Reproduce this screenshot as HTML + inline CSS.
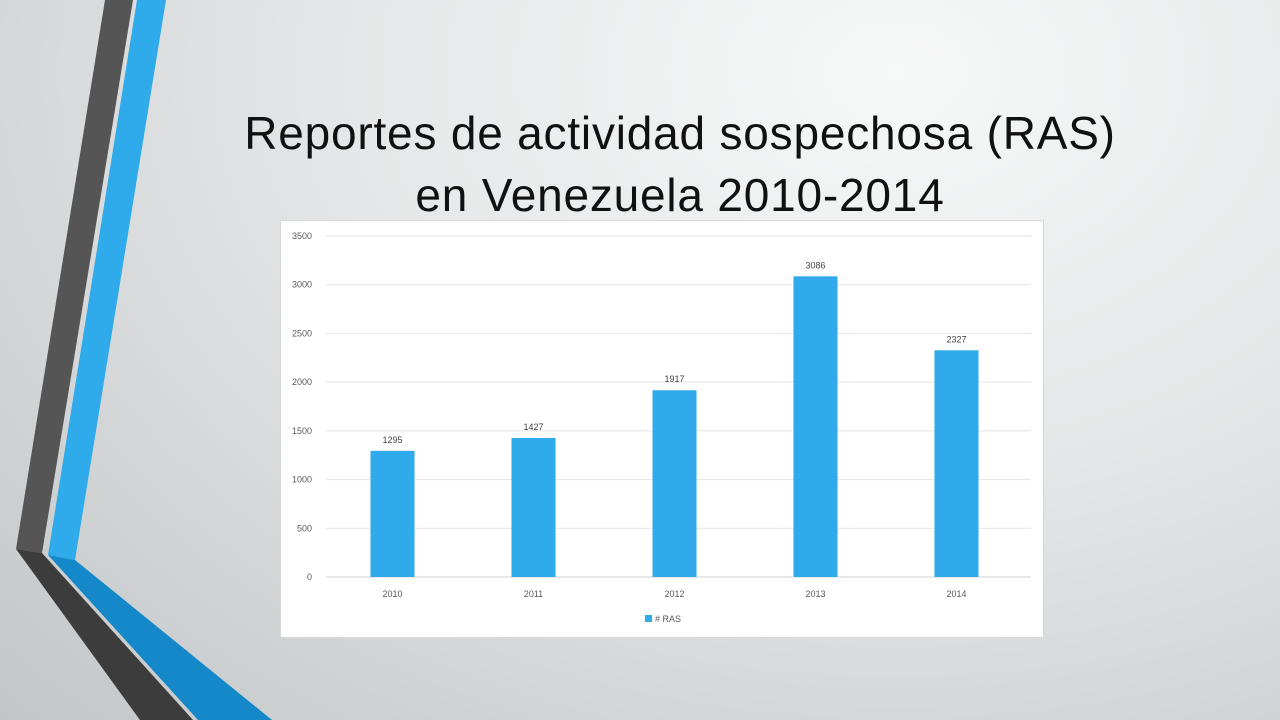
<!DOCTYPE html>
<html><head><meta charset="utf-8"><style>
body{margin:0;width:1280px;height:720px;overflow:hidden;font-family:"Liberation Sans",sans-serif;}
#bg{position:absolute;left:0;top:0;width:1280px;height:720px;background:radial-gradient(ellipse at 70% 10%,#f7f8f8 0%,#e4e6e7 45%,#c3c6c8 100%);}
h1{position:absolute;left:130px;top:102px;width:1100px;margin:0;text-align:center;font-weight:normal;font-size:46px;letter-spacing:0.8px;line-height:62px;color:#111;}
#chartbox{position:absolute;left:280px;top:220px;width:764px;height:418px;background:#fff;border:1px solid #d9d9d9;box-sizing:border-box;}
</style></head><body>
<div id="bg"></div>
<svg style="position:absolute;left:0;top:0" width="1280" height="720">
<polygon points="105,0 133,0 42,553 16,549" fill="#555"/>
<polygon points="16,549 42,553 193,720 140,720" fill="#3c3c3c"/>
<polygon points="137,0 166,0 75,560 48,555" fill="#2faaea"/>
<polygon points="48,555 75,560 272,720 198,720" fill="#1588c9"/>
</svg>
<h1>Reportes de actividad sospechosa (RAS)<br>en Venezuela 2010-2014</h1>
<div id="chartbox">
<svg id="chart" width="764" height="418"></svg>
</div>
<script>
const categories=["2010","2011","2012","2013","2014"];
const values=[1295,1427,1917,3086,2327];
const ticks=[0,500,1000,1500,2000,2500,3000,3500];
const NS="http://www.w3.org/2000/svg";
const svg=document.getElementById('chart');
const x0=43,x1=748,yb=356,yt=15,ymax=3500;
const y=v=>yb-(v/ymax)*(yb-yt);
const step=(x1-x0)/categories.length;
const xc=i=>x0+step*(i+0.5)-2;
function mk(t,a){const e=document.createElementNS(NS,t);for(const k in a)e.setAttribute(k,a[k]);svg.appendChild(e);return e;}
ticks.forEach(t=>{
const l=mk('line',{x1:x0+2,x2:x1+2,y1:y(t),y2:y(t),stroke:t===0?'#d0d0d0':'#e3e3e3','stroke-width':1});


const tx=mk('text',{x:31,y:y(t)+3,'text-anchor':'end','font-size':9,fill:'#595959'});
tx.textContent=t;


});
categories.forEach((c,i)=>{
const bw=44;
const r=mk('rect',{x:xc(i)-bw/2,y:y(values[i]),width:bw,height:yb-y(values[i]),fill:'#2faaea'});


const v=mk('text',{x:xc(i),y:y(values[i])-8,'text-anchor':'middle','font-size':9,fill:'#404040'});
v.textContent=values[i];


const cl=mk('text',{x:xc(i),y:yb+20,'text-anchor':'middle','font-size':9,fill:'#595959'});
cl.textContent=c;


});
const lg=mk('rect',{x:364,y:394,width:7,height:7,fill:'#2faaea'});


const lt=mk('text',{x:374,y:401,'font-size':9,fill:'#595959'});
lt.textContent='# RAS';


</script>
</body></html>
